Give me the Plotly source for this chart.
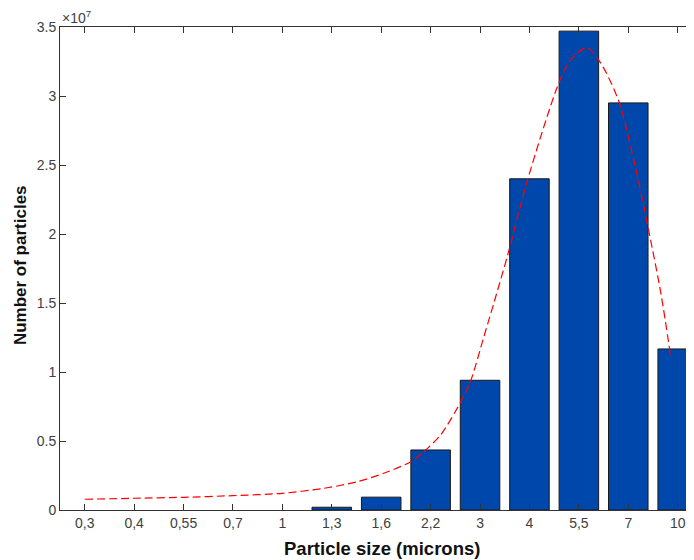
import plotly.graph_objects as go

categories = ["0,3", "0,4", "0,55", "0,7", "1", "1,3", "1,6", "2,2", "3", "4", "5,5", "7", "10"]
counts = [0, 0, 0, 0, 0, 0.02e7, 0.093e7, 0.435e7, 0.94e7, 2.40e7, 3.47e7, 2.95e7, 1.167e7]

# fitted curve (x in category-index units)
fit_x = [0, 1, 2, 3, 4, 4.84, 5.52, 6.05, 6.6, 6.86, 7.2, 7.61, 7.81, 8.07, 8.28, 8.56,
         8.96, 9.59, 9.83, 10.16, 10.44, 10.81, 11.11, 11.41, 11.66, 11.86]
fit_y = [0.078e7, 0.085e7, 0.092e7, 0.104e7, 0.121e7, 0.157e7, 0.205e7, 0.266e7,
         0.35e7, 0.422e7, 0.543e7, 0.783e7, 0.935e7, 1.246e7, 1.50e7, 1.848e7,
         2.39e7, 3.09e7, 3.26e7, 3.35e7, 3.24e7, 2.96e7, 2.54e7, 2.03e7, 1.57e7, 1.11e7]

y_ticks = [0, 0.5e7, 1e7, 1.5e7, 2e7, 2.5e7, 3e7, 3.5e7]
y_ticktext = ["0", "0.5", "1", "1.5", "2", "2.5", "3", "3.5"]

idx = list(range(len(categories)))
edge_widths = [1 if v > 0 else 0 for v in counts]

fig = go.Figure()
fig.add_trace(go.Bar(
    x=idx, y=counts, width=0.8,
    marker=dict(color="#0047AB", line=dict(color="#1a1a1a", width=edge_widths)),
    showlegend=False,
))
fig.add_trace(go.Scatter(
    x=fit_x, y=fit_y, mode="lines",
    line=dict(color="#FF0000", width=1.2, dash="8px,4px", shape="spline", smoothing=0.8),
    showlegend=False,
))

axis_color = "#333333"
tick_font = dict(size=14, color="#404040")
fig.update_layout(
    width=686, height=552,
    margin=dict(l=52, r=0, t=19, b=50),
    plot_bgcolor="white", paper_bgcolor="white",
    font=dict(family="Liberation Sans, Arial, sans-serif", color="#404040", size=14),
    xaxis=dict(
        range=[-0.5, 12.33], tickmode="array", tickvals=idx, ticktext=categories,
        showline=True, linecolor=axis_color, linewidth=1, mirror="ticks",
        ticks="inside", ticklen=6, tickcolor=axis_color, showgrid=False, zeroline=False,
        tickfont=tick_font, automargin=False,
    ),
    yaxis=dict(
        range=[0, 3.5e7], tickmode="array", tickvals=y_ticks, ticktext=y_ticktext,
        showline=True, linecolor=axis_color, linewidth=1,
        ticks="inside", ticklen=6, tickcolor=axis_color, showgrid=False, zeroline=False,
        tickfont=tick_font, automargin=False,
    ),
    annotations=[
        dict(text="×10<sup>7</sup>", xref="paper", yref="paper", x=0, y=1,
             xanchor="left", yanchor="bottom", showarrow=False, yshift=-1,
             font=dict(size=14, color="#404040")),
        dict(text="<b>Particle size (microns)</b>", xref="paper", yref="paper",
             x=0.508, y=-0.0787, xanchor="center", yanchor="middle", showarrow=False,
             font=dict(size=18.5, color="#111111")),
        dict(text="<b>Number of particles</b>", xref="paper", yref="paper",
             x=-0.0631, y=0.507, xanchor="center", yanchor="middle", showarrow=False,
             textangle=-90, font=dict(size=17, color="#111111")),
    ],
)

fig.write_html("out.html")
